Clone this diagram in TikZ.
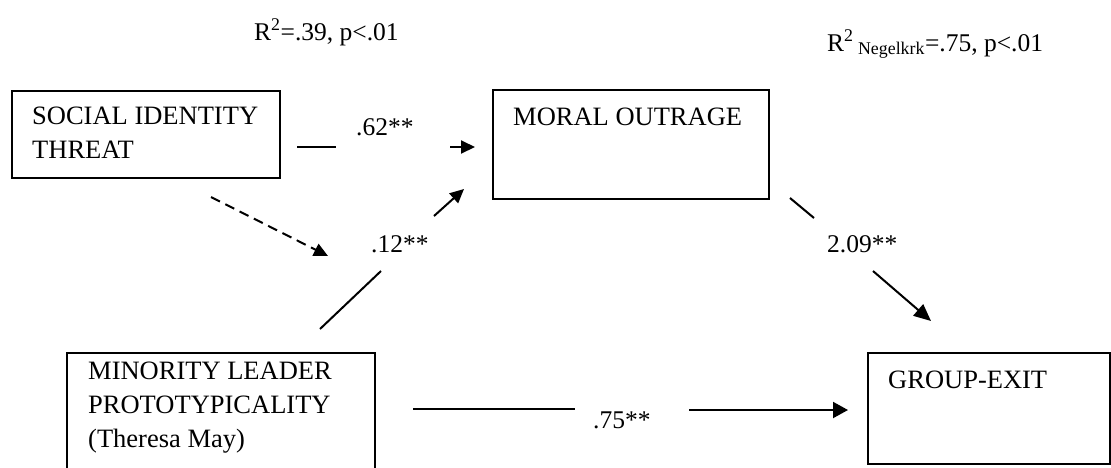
\documentclass[tikz,border=0pt]{standalone}
\usepackage{fontspec}
\setmainfont{Liberation Serif}
\usetikzlibrary{arrows.meta}
\begin{document}
\begin{tikzpicture}[x=1pt,y=-1pt,
  box/.style={draw, line width=1.6pt, inner sep=0pt, anchor=north west},
  txt/.style={anchor=north west, inner sep=0pt, font=\fontsize{26.5}{34}\selectfont, align=left},
  btxt/.style={anchor=base west, inner sep=0pt, font=\fontsize{26.5}{34}\selectfont},
  lbl/.style={anchor=base west, inner sep=0pt, font=\fontsize{25.5}{30}\selectfont},
  conn/.style={line width=2pt},
  tipa/.style={-{Triangle[length=14pt,width=13pt]}}]
\useasboundingbox (0,0) rectangle (1111,467);
% boxes
\node[box, minimum width=268pt, minimum height=87pt] (sitbox) at (11,90) {};
\node[box, minimum width=276pt, minimum height=109pt] (mobox) at (492,89) {};
\node[box, minimum width=308pt, minimum height=120pt] (mlpbox) at (66,352) {};
\node[box, minimum width=242pt, minimum height=111pt] (gebox) at (867,352) {};
% box texts
\node[txt] (sit) at (32,107) {SOCIAL IDENTITY\\THREAT};
\node[btxt] (mo) at (513,125) {MORAL OUTRAGE};
\node[txt] (mlp) at (88,362) {MINORITY LEADER\\PROTOTYPICALITY\\(Theresa May)};
\node[btxt] (ge) at (888,388) {GROUP-EXIT};
% fit statistics
\node[lbl] (r1) at (254,40) {R\textsuperscript{2}=.39, p<.01};
\node[lbl] (r2) at (827,51) {R\textsuperscript{2}\textsubscript{ Negelkrk}=.75, p<.01};
% path labels
\node[lbl] (l62) at (356,135) {.62**};
\node[lbl] (l12) at (371,252) {.12**};
\node[lbl] (l209) at (827,252) {2.09**};
\node[lbl] (l75) at (593,428) {.75**};
% connector end points
\coordinate (a1) at (297,147); \coordinate (a2) at (336,147);
\coordinate (a3) at (450,147); \coordinate (a4) at (475,147);
\coordinate (d1) at (211,197); \coordinate (d2) at (328,256);
\coordinate (b1) at (320,329); \coordinate (b2) at (381,271);
\coordinate (b3) at (434,216); \coordinate (b4) at (464,189);
\coordinate (c1) at (790,198); \coordinate (c2) at (814,218);
\coordinate (c3) at (873,271); \coordinate (c4) at (931,321);
\coordinate (e1) at (413,409); \coordinate (e2) at (575,409);
\coordinate (e3) at (689,410); \coordinate (e4) at (848,410);
% connectors
\draw[conn] (a1) -- (a2);
\draw[conn, tipa] (a3) -- (a4);
\draw[conn, tipa, dash pattern=on 10pt off 6pt] (d1) -- (d2);
\draw[conn] (b1) -- (b2);
\draw[conn, tipa] (b3) -- (b4);
\draw[conn] (c1) -- (c2);
\draw[conn, -{Triangle[length=17pt,width=15pt]}] (c3) -- (c4);
\draw[conn] (e1) -- (e2);
\draw[conn, -{Triangle[length=15pt,width=16pt]}] (e3) -- (e4);
\end{tikzpicture}
\end{document}
